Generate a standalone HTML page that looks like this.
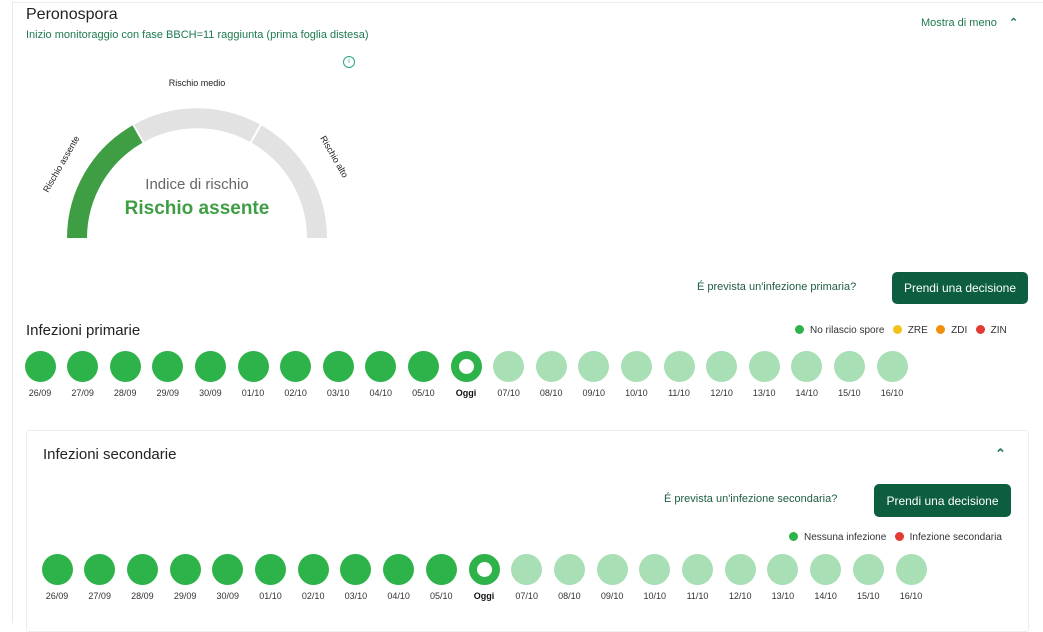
<!DOCTYPE html>
<html><head><meta charset="utf-8"><style>
body{margin:0;width:1043px;height:617px;background:#fff;font-family:"Liberation Sans",sans-serif;position:relative;overflow:hidden}
.a{position:absolute;white-space:nowrap}
.btn{position:absolute;background:#0d5e3e;color:#fff;border-radius:5px;font-size:12px;display:flex;align-items:center;justify-content:center}
.c{position:absolute;border-radius:50%;width:31px;height:31px}
.l{position:absolute;font-size:9px;color:#333;width:40px;text-align:center}
.dot{display:inline-block;width:9px;height:9px;border-radius:50%;vertical-align:-1px;margin-right:6px}
</style></head><body>
<div class="a" style="left:12px;top:2px;width:1030px;height:620px;border-left:1px solid #e8e8e8;border-top:1px solid #eee"></div>
<div class="a" style="left:26px;top:6px;font-size:16px;color:#222">Peronospora</div>
<div class="a" style="left:26px;top:29px;font-size:11px;color:#1e7a4e">Inizio monitoraggio con fase BBCH=11 raggiunta (prima foglia distesa)</div>
<div class="a" style="left:921px;top:16px;font-size:11px;color:#1e7a4e">Mostra di meno &nbsp;&nbsp;&nbsp;<span style="font-weight:bold">&#8963;</span></div>
<div class="a" style="left:343px;top:56px;width:10px;height:10px;border:1px solid #2aa38a;border-radius:50%;font-size:7px;color:#2aa38a;text-align:center;line-height:10px">i</div>
<svg class="a" style="left:0;top:0" width="400" height="250">
<path d="M77 238 A120 120 0 0 1 137.5 134.1" stroke="#3f9e43" stroke-width="20" fill="none"/>
<path d="M139.2 133.1 A120 120 0 0 1 254.8 133.1" stroke="#e2e2e2" stroke-width="20" fill="none"/>
<path d="M256.5 134.1 A120 120 0 0 1 317 238" stroke="#e2e2e2" stroke-width="20" fill="none"/>
<text x="197" y="86" font-size="9" text-anchor="middle" fill="#222">Rischio medio</text>
<text x="0" y="0" font-size="9" fill="#222" transform="translate(48,193) rotate(-60)">Rischio assente</text>
<text x="0" y="0" font-size="9" fill="#222" transform="translate(320,138) rotate(60)">Rischio alto</text>
<text x="197" y="189" font-size="15" text-anchor="middle" fill="#666">Indice di rischio</text>
<text x="197" y="214" font-size="19" font-weight="bold" text-anchor="middle" fill="#3f9e43">Rischio assente</text>
</svg>
<div class="a" style="left:697px;top:281px;font-size:11px;color:#1e5e40">É prevista un'infezione primaria?</div>
<div class="btn" style="left:892px;top:272px;width:136px;height:32px">Prendi una decisione</div>
<div class="a" style="left:26px;top:322px;font-size:15px;color:#222">Infezioni primarie</div>
<div class="a" style="left:795px;top:325px;font-size:10px;color:#333"><span class="dot" style="background:#2db34a"></span>No rilascio spore &nbsp;&nbsp;<span class="dot" style="background:#f2c21a"></span>ZRE &nbsp;&nbsp;<span class="dot" style="background:#f0900a"></span>ZDI &nbsp;&nbsp;<span class="dot" style="background:#e53935"></span>ZIN</div>
<div id="r1"></div>
<div class="a" style="left:26px;top:430px;width:1001px;height:200px;border:1px solid #eee;border-radius:3px"></div>
<div class="a" style="left:43px;top:446px;font-size:15px;color:#222">Infezioni secondarie</div>
<div class="a" style="left:995px;top:446px;font-size:13px;color:#1e7a4e;font-weight:bold">&#8963;</div>
<div class="a" style="left:664px;top:493px;font-size:11px;color:#1e5e40">É prevista un'infezione secondaria?</div>
<div class="btn" style="left:874px;top:484px;width:137px;height:33px">Prendi una decisione</div>
<div class="a" style="left:789px;top:532px;font-size:10px;color:#333"><span class="dot" style="background:#2db34a"></span>Nessuna infezione &nbsp;&nbsp;<span class="dot" style="background:#e53935"></span>Infezione secondaria</div>
<div id="r2"></div>
<script>
var d=["26/09","27/09","28/09","29/09","30/09","01/10","02/10","03/10","04/10","05/10","Oggi","07/10","08/10","09/10","10/10","11/10","12/10","13/10","14/10","15/10","16/10"];
function row(x0,sp,cy,ly){var h="";for(var i=0;i<21;i++){var x=x0+i*sp;var bg=i<10?"#2db34a":(i==10?"#fff":"#a8dfb5");var st=i==10?"border:8px solid #2db34a;width:15px;height:15px;":"";
h+='<div class="c" style="left:'+(x-15.5)+'px;top:'+(cy-15.5)+'px;background:'+bg+';'+st+'"></div>';
h+='<div class="l" style="left:'+(x-20)+'px;top:'+ly+'px;'+(i==10?'font-weight:bold;color:#111':'')+'">'+d[i]+'</div>';}
return h;}
document.getElementById("r1").innerHTML=row(40,42.6,366,388);
document.getElementById("r2").innerHTML=row(57,42.7,569,591);
</script>
</body></html>
